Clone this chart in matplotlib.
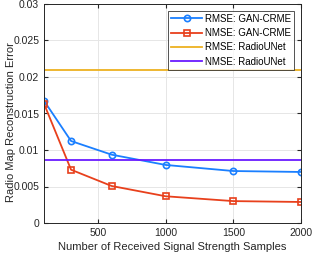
import matplotlib
matplotlib.use("Agg")
import matplotlib.pyplot as plt

# Values
samples = [100, 300, 600, 1000, 1500, 2000]
rmse_gan = [0.01675, 0.01123, 0.00936, 0.00795, 0.00712, 0.00699]
nmse_gan = [0.01634, 0.00730, 0.00507, 0.00366, 0.00300, 0.00288]
rmse_unet = 0.0209
nmse_unet = 0.00863

plt.rcParams['font.family'] = ['Liberation Sans', 'DejaVu Sans']

fig = plt.figure(figsize=(3.12, 2.56), dpi=100)
ax = fig.add_axes([44 / 312, 1 - 223 / 256, 257 / 312, 219 / 256])

ax.plot(samples, rmse_gan, color='#1a7fff', marker='o', markersize=4.5,
        markerfacecolor='none', markeredgewidth=1.2, linewidth=1.3, label='RMSE: GAN-CRME')
ax.plot(samples, nmse_gan, color='#e8401c', marker='s', markersize=4,
        markerfacecolor='none', markeredgewidth=1.2, linewidth=1.3, label='NMSE: GAN-CRME')
ax.axhline(rmse_unet, color='#edb120', linewidth=1.3, label='RMSE: RadioUNet')
ax.axhline(nmse_unet, color='#6a1bff', linewidth=1.3, label='NMSE: RadioUNet')

ax.set_xlim(100, 2000)
ax.set_ylim(0, 0.03)
ax.set_xticks([500, 1000, 1500, 2000])
ax.set_yticks([0, 0.005, 0.01, 0.015, 0.02, 0.025, 0.03])
ax.set_yticklabels(['0', '0.005', '0.01', '0.015', '0.02', '0.025', '0.03'])
ax.tick_params(labelsize=7.5, colors='#262626', direction='in', length=3, top=True, right=True)
ax.grid(True, color='#e6e6e6', linewidth=0.7)
ax.set_axisbelow(True)
for s in ax.spines.values():
    s.set_color('#262626')
    s.set_linewidth(0.7)

ax.set_xlabel('Number of Received Signal Strength Samples', fontsize=8, color='#262626', labelpad=3)
ax.set_ylabel('Radio Map Reconstruction Error', fontsize=8, color='#262626')
ax.yaxis.set_label_coords(-0.11, 0.46)

leg = ax.legend(loc='upper right', fontsize=7, frameon=True, fancybox=False,
                edgecolor='#262626', borderpad=0.3, labelspacing=0.45,
                handlelength=3.2, handletextpad=0.3, borderaxespad=0.7)
leg.get_frame().set_linewidth(0.7)

fig.savefig('out.png', dpi=100)
